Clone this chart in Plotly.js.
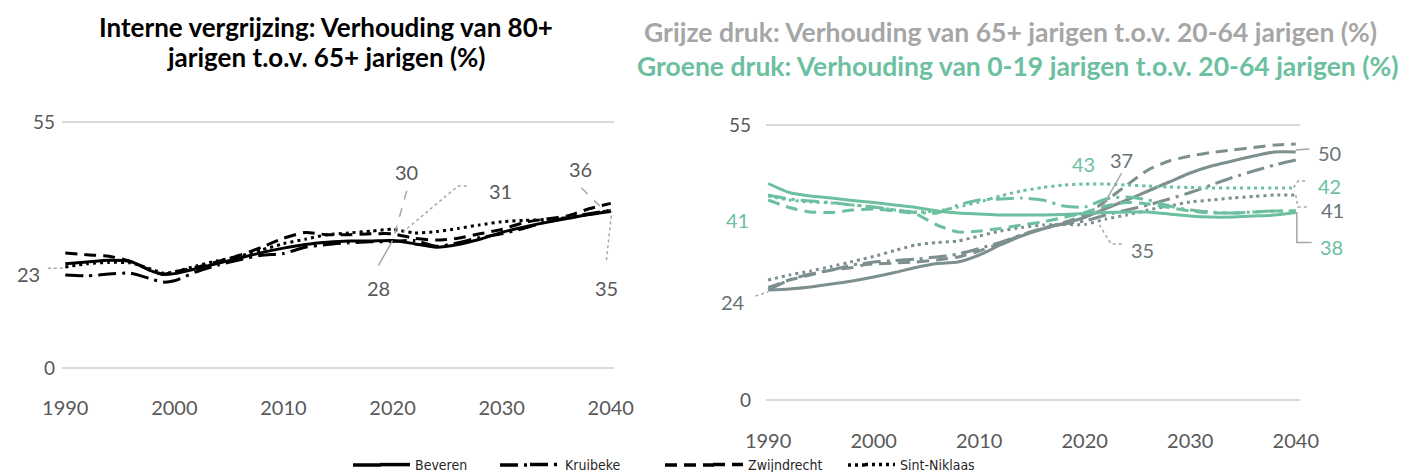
<!DOCTYPE html>
<html><head><meta charset="utf-8">
<script src="https://cdn.plot.ly/plotly-3.0.1.min.js"></script>
<style>html,body{margin:0;padding:0;background:#fff}#chart{width:1405px;height:472px}</style>
</head><body><div id="chart"></div>
<script>
// ---- data ----
const years = [1990,1992,1994,1996,1998,1999,2000,2002,2004,2006,2008,2010,2012,2014,2016,2018,2020,2022,2024,2026,2028,2030,2032,2034,2036,2038,2040];
const gemeenten = ["Beveren","Kruibeke","Zwijndrecht","Sint-Niklaas"];

// Interne vergrijzing (80+ / 65+, %)
const bevInt = [23.3,23.7,24.1,23.8,21.6,20.9,21.1,22.2,23.4,24.6,25.8,26.8,27.6,28.1,28.4,28.4,28.5,27.8,27.0,27.6,28.8,30.3,31.5,32.5,33.4,34.3,35.0];
const kruInt = [20.8,20.6,21.0,21.2,19.8,19.2,19.5,21.5,23.0,24.2,25.2,25.6,27.0,27.6,28.0,28.2,28.3,28.5,27.2,28.0,29.2,30.0,31.2,32.6,33.6,34.5,35.3];
const zwiInt = [25.7,25.3,25.0,23.8,21.6,21.0,21.5,22.5,23.8,25.2,27.0,29.0,30.3,29.8,29.8,30.0,30.0,29.0,28.6,29.0,30.0,31.0,32.5,33.3,34.0,35.6,36.8];
const sinInt = [22.6,23.3,23.6,23.5,22.0,21.2,21.5,22.8,24.0,25.0,26.4,27.8,28.8,29.8,30.2,30.6,31.0,30.2,30.5,31.2,32.0,32.7,33.0,33.2,33.6,34.3,35.3];

// Grijze druk (65+ / 20-64, %)
const bevGr = [22.0,22.2,22.6,23.2,23.8,24.2,24.6,25.5,26.5,27.3,27.6,29.0,31.0,32.8,34.2,35.3,36.5,38.3,40.0,41.8,43.6,45.4,46.8,47.8,48.8,49.6,49.6];
const kruGr = [22.0,24.0,25.2,26.0,27.0,27.3,27.6,27.9,28.2,28.6,29.2,30.3,31.5,33.0,34.3,35.2,35.8,37.0,38.0,39.0,40.2,41.5,43.0,44.5,45.8,47.0,48.0];
const zwiGr = [22.5,24.0,25.0,26.0,26.5,27.0,27.2,27.4,27.6,28.0,28.6,29.8,31.3,33.0,34.3,35.5,37.0,39.8,43.0,46.0,47.8,48.8,49.5,50.0,50.5,51.0,51.2];
const sinGr = [24.0,25.0,25.8,26.7,27.7,28.2,28.7,29.9,31.0,31.5,31.8,32.8,33.8,34.5,35.0,35.1,35.1,36.2,37.0,38.0,38.8,39.6,40.0,40.4,40.7,41.0,41.0];

// Groene druk (0-19 / 20-64, %)
const bevGn = [43.3,41.5,40.8,40.4,39.9,39.7,39.5,39.0,38.5,37.8,37.4,37.2,37.0,37.0,37.0,37.1,37.3,37.5,37.6,37.6,37.2,36.8,36.6,36.6,36.8,37.0,37.5];
const kruGn = [41.0,40.2,39.8,39.5,39.0,38.8,38.6,38.0,37.5,37.4,39.0,40.0,40.2,40.4,40.0,38.8,38.6,40.2,40.6,40.0,38.8,38.0,37.6,37.4,37.6,37.8,37.8];
const zwiGn = [40.0,38.5,37.6,37.5,38.0,38.1,38.2,37.8,37.2,35.0,33.6,33.8,34.3,35.0,35.6,36.5,37.5,38.8,39.5,39.2,38.5,37.8,37.4,37.4,37.6,37.8,37.8];
const sinGn = [40.8,40.0,39.6,39.4,39.0,38.8,38.6,38.0,37.6,37.8,38.6,39.6,40.8,41.8,42.5,43.0,43.2,43.2,43.0,42.8,42.6,42.5,42.4,42.4,42.4,42.4,42.4];

const xTicks = [1990,2000,2010,2020,2030,2040];
const yTicks = [0,55];

// ---- styles / geometry ----
const W = 1405, H = 472;
const BLACK = "#000000", GREY = "#7d8f8f", GREEN = "#6cbf9f";
const LABGREY = "#687575", TXT = "#595959", LEAD = "#a6a6a6";
const dashes = ["solid","18px,6px,3px,6px","12px,7px","3px,4px"];
const FONT = "Lato, 'Open Sans', sans-serif";
// pixel boxes of the two plot areas
const AX = {
  L:{x0:62, x1:614, xr:[1989.7,2040.3], yb:370.24, yt:119.76, yr:[-0.5,55.5]},
  R:{x0:766, x1:1300, xr:[1989.8,2040.4], yb:402.5, yt:122.5, yr:[-0.5,55.5]}
};
function P(a, x, y){ // data -> paper
  const A = AX[a];
  const px = A.x0 + (x-A.xr[0])/(A.xr[1]-A.xr[0])*(A.x1-A.x0);
  const py = A.yb - (y-A.yr[0])/(A.yr[1]-A.yr[0])*(A.yb-A.yt);
  return [px/W, 1-py/H];
}

const traces = [];
function addSet(series, xa, ya, color){
  series.forEach((s,i)=>{
    traces.push({x:years, y:s, xaxis:xa, yaxis:ya, type:"scatter", mode:"lines",
      line:{color:color, width:3, dash:dashes[i], shape:"spline", smoothing:0.6},
      showlegend:false, hoverinfo:"skip"});
  });
}
addSet([bevInt,kruInt,zwiInt,sinInt],"x","y",BLACK);
addSet([bevGr,kruGr,zwiGr,sinGr],"x2","y2",GREY);
addSet([bevGn,kruGn,zwiGn,sinGn],"x2","y2",GREEN);

// legend: one legend per gemeente so each can be placed like the reference
const legTextX = [415, 565, 748, 900];   // where each legend text starts (px)
const legLineX0 = [353, 500, 665, 848];  // where each legend sample starts (px)
const LEGY = 465;
const legendNames = ["legend","legend2","legend3","legend4"];
gemeenten.forEach((g,i)=>{
  traces.push({x:[null], y:[null], type:"scatter", mode:"lines", name:g, legend:legendNames[i],
    line:{color:BLACK, width:3.5, dash:dashes[i]}, showlegend:true, xaxis:"x", yaxis:"y"});
});

const shapes = [];
// legend sample extensions (Plotly draws 30px samples; the reference uses longer ones)
gemeenten.forEach((g,i)=>{
  const xa = legLineX0[i], xb = legTextX[i]-34;
  if (xb > xa) shapes.push({type:"line", xref:"paper", yref:"paper", x0:xa/W, x1:xb/W,
    y0:1-LEGY/H, y1:1-LEGY/H, line:{color:BLACK, width:3.5, dash:dashes[i]}});
});

// leader lines
function leader(a, pts, dash){
  const q = pts.map(p=>P(a,p[0],p[1]));
  const path = "M " + q.map(v=>v[0]+","+v[1]).join(" L ");
  shapes.push({type:"path", path:path, xref:"paper", yref:"paper", line:{color:LEAD, width:1.5, dash:dash}});
}
// left chart
leader("L",[[1988.4,22.3],[1990,22.3]],"dot");
leader("L",[[2021.3,39.6],[2020.2,30.0]],"dash");
leader("L",[[2026.8,40.7],[2026.0,40.7],[2021.0,30.5]],"dot");
leader("L",[[2018.7,22.9],[2020.0,28.5]],"solid");
leader("L",[[2037.3,40.3],[2039.0,36.2]],"dash");
leader("L",[[2039.6,24.1],[2040.1,35.0]],"dot");
// right chart
leader("R",[[1988.8,20.8],[1990,21.6]],"dot");
leader("R",[[2023.5,45.4],[2021.4,37.6]],"solid");
leader("R",[[2023.5,31.2],[2022.5,31.2],[2021.4,35.0]],"dot");
leader("R",[[2040.0,50.0],[2041.3,50.2]],"solid");
leader("R",[[2039.8,42.5],[2040.2,43.8],[2041.1,43.8]],"dot");
leader("R",[[2040.0,41.0],[2040.2,38.6],[2041.3,38.6]],"dot");
leader("R",[[2040.1,37.6],[2040.1,31.5],[2041.5,31.5]],"solid");

const ann = [];
function lab(a, t, x, y, col){
  const p = P(a,x,y);
  ann.push({text:t, x:p[0], y:p[1], xref:"paper", yref:"paper", showarrow:false,
    font:{family:FONT, size:20, color:col}, xanchor:"center", yanchor:"middle"});
}
lab("L","23",1986.6,21.1,TXT);
lab("L","30",2021.3,43.9,TXT);
lab("L","31",2029.9,39.6,TXT);
lab("L","28",2018.7,17.8,TXT);
lab("L","36",2037.2,44.4,TXT);
lab("L","35",2039.6,17.8,TXT);
lab("R","41",1987.1,36.0,GREEN);
lab("R","24",1986.7,19.7,LABGREY);
lab("R","43",2019.9,47.2,GREEN);
lab("R","37",2023.5,48.0,LABGREY);
lab("R","35",2025.5,30.0,LABGREY);
lab("R","50",2043.2,49.4,LABGREY);
lab("R","42",2043.2,42.9,GREEN);
lab("R","41",2043.5,38.0,LABGREY);
lab("R","38",2043.4,30.7,GREEN);

function title(t, xpx, ypx, col, size){
  ann.push({text:"<b>"+t+"</b>", x:xpx/W, y:1-ypx/H, xref:"paper", yref:"paper",
    showarrow:false, xanchor:"center", yanchor:"middle", font:{family:FONT, size:size, color:col}});
}
title("Interne vergrijzing: Verhouding van 80+",326,27,"#000000",26);
title("jarigen t.o.v. 65+ jarigen (%)",326,57,"#000000",26);
title("Grijze druk: Verhouding van 65+ jarigen t.o.v. 20-64 jarigen (%)",1010,32,"#a6a6a6",26.5);
title("Groene druk: Verhouding van 0-19 jarigen t.o.v. 20-64 jarigen (%)",1017,66,GREEN,26.5);

const xBase = {tickvals:xTicks, ticktext:xTicks.map(String), showgrid:false, zeroline:false, showline:false,
  ticks:"", tickfont:{family:FONT, size:20, color:TXT}, ticklabelstandoff:24, fixedrange:true};
const yBase = {tickvals:yTicks, ticktext:yTicks.map(String), range:[-0.5,55.5], showgrid:true, gridcolor:"#d9d9d9", gridwidth:2,
  zeroline:false, showline:false, ticks:"", tickfont:{family:FONT, size:19, color:TXT}, fixedrange:true};

const legBase = {orientation:"h", xanchor:"left", y:1-LEGY/H, yanchor:"middle",
  font:{family:"'DejaVu Sans Condensed', 'DejaVu Sans', sans-serif", size:14, color:"#262626"},
  bgcolor:"rgba(0,0,0,0)", borderwidth:0};
const layout = {
  width:W, height:H, margin:{l:0,r:0,t:0,b:0,pad:0,autoexpand:false}, paper_bgcolor:"#fff", plot_bgcolor:"#fff",
  showlegend:true,
  xaxis:Object.assign({}, xBase, {domain:[AX.L.x0/W,AX.L.x1/W], range:AX.L.xr, anchor:"y", automargin:false}),
  yaxis:Object.assign({}, yBase, {domain:[1-AX.L.yb/H,1-AX.L.yt/H], anchor:"x", ticklabelstandoff:6, automargin:false}),
  xaxis2:Object.assign({}, xBase, {domain:[AX.R.x0/W,AX.R.x1/W], range:AX.R.xr, anchor:"y2", automargin:false}),
  yaxis2:Object.assign({}, yBase, {domain:[1-AX.R.yb/H,1-AX.R.yt/H], anchor:"x2", ticklabelstandoff:14, automargin:false}),
  shapes:shapes, annotations:ann
};
legendNames.forEach((n,i)=>{ layout[n] = Object.assign({}, legBase, {x:(legTextX[i]-40)/W}); });
Plotly.newPlot("chart", traces, layout, {displayModeBar:false, staticPlot:true});
</script></body></html>
